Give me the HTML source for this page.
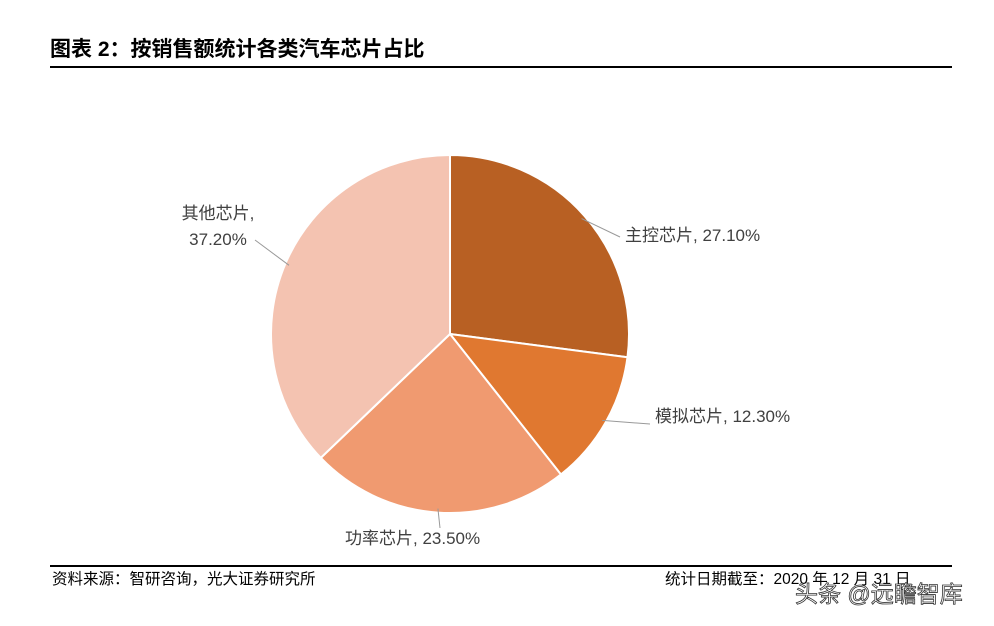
<!DOCTYPE html>
<html><head><meta charset="utf-8"><style>
body{margin:0;width:994px;height:621px;background:#fff;overflow:hidden;font-family:"Liberation Sans","Noto Sans CJK SC",sans-serif;}
</style></head><body>
<svg width="994" height="621" id="svg" style="font-family:'Liberation Sans','Noto Sans CJK SC',sans-serif">
<text x="50" y="56" font-size="21" font-weight="bold" fill="#000">图表 2：按销售额统计各类汽车芯片占比</text>
<rect x="50" y="66" width="902" height="2" fill="#000"/>
<g id="pie"></g>
<rect x="50" y="565" width="902" height="2" fill="#000"/>
<text x="52" y="584" font-size="15.5" fill="#000">资料来源：智研咨询，光大证券研究所</text>
<text x="665" y="584" font-size="15.5" fill="#000">统计日期截至：2020 年 12 月 31 日</text>
<text x="795" y="602" font-size="23" fill="#fff" stroke="#333" stroke-width="0.8">头条 @远瞻智库</text>
</svg>
<script>
const categories=["主控芯片","模拟芯片","功率芯片","其他芯片"];
const values=[27.10,12.30,23.50,37.20];
const colors=["#B86023","#E07830","#F09A70","#F4C3B1"];
const cx=450,cy=334,r=179;
const g=document.getElementById('pie');
const NS="http://www.w3.org/2000/svg";
const total=values.reduce((a,b)=>a+b,0);
const pt=(a,rr)=>[cx+rr*Math.sin(a),cy-rr*Math.cos(a)];
let a0=0;
const labelPos=[[625,241,'start',1,620,237],[655,422,'start',1,650,424],[345,544,'start',1,440,528],[218,219,'middle',2,255,240]];
const leaders=[];
values.forEach((v,i)=>{
  const a1=a0+v/total*2*Math.PI;
  const p0=pt(a0,r),p1=pt(a1,r);
  const path=document.createElementNS(NS,'path');
  path.setAttribute('d',`M${cx},${cy}L${p0[0]},${p0[1]}A${r},${r} 0 ${a1-a0>Math.PI?1:0} 1 ${p1[0]},${p1[1]}Z`);
  path.setAttribute('fill',colors[i]);
  path.setAttribute('stroke','#fff');
  path.setAttribute('stroke-width','2');
  
  
  g.appendChild(path);
  const am=(a0+a1)/2;
  const lp=labelPos[i];
  const e=pt(am,r-4);
  const ln=document.createElementNS(NS,'line');
  ln.setAttribute('x1',e[0]);ln.setAttribute('y1',e[1]);
  ln.setAttribute('x2',lp[4]);ln.setAttribute('y2',lp[5]);
  ln.setAttribute('stroke','#999');ln.setAttribute('stroke-width','1');
  
  
  leaders.push(ln);
  const t=document.createElementNS(NS,'text');
  t.setAttribute('font-size','17');t.setAttribute('fill','#404040');t.setAttribute('text-anchor',lp[2]);
  
  
  const s=v.toFixed(2)+'%';
  if(lp[3]==2){
    t.innerHTML=`<tspan x="${lp[0]}" y="${lp[1]}">${categories[i]},</tspan><tspan x="${lp[0]}" y="${lp[1]+26}">${s}</tspan>`;
  } else {
    t.setAttribute('x',lp[0]);t.setAttribute('y',lp[1]);
    t.textContent=categories[i]+', '+s;
  }
  leaders.push(t);
  a0=a1;
});
leaders.forEach(n=>g.appendChild(n));
</script>
</body></html>
